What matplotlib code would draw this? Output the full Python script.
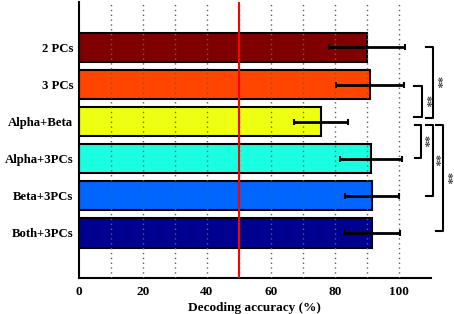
import matplotlib
matplotlib.use('Agg')
import matplotlib.pyplot as plt
import numpy as np

labels = ['2 PCs', '3 PCs', 'Alpha+Beta', 'Alpha+3PCs', 'Beta+3PCs', 'Both+3PCs']
acc = [90.0, 91.0, 75.6, 91.3, 91.6, 91.6]
err = [11.9, 10.6, 8.4, 9.7, 8.4, 8.7]
colors = ['#800000', '#ff4500', '#eeff11', '#1affe0', '#0066ff', '#000090']
stars = ['**', '**', '**', '**', '**']

plt.rcParams['font.family'] = ['Liberation Serif', 'DejaVu Serif']
plt.rcParams['font.weight'] = 'bold'

fig = plt.figure(figsize=(4.54, 3.14), dpi=100)
ax = fig.add_axes([0.174, 0.115, 0.775, 0.879])

y = np.arange(len(labels))
ax.barh(y, acc, height=0.8, color=colors, edgecolor='black', linewidth=1.5, zorder=2)
ax.errorbar(acc, y, xerr=err, fmt='none', ecolor='black', elinewidth=2,
            capsize=2.5, capthick=1.5, zorder=4)

for gx in range(10, 101, 10):
    ax.axvline(gx, color='#606060', linestyle=(0, (1, 2.5)), linewidth=1, zorder=3)
ax.axvline(50, color='red', linewidth=1.5, zorder=3)

ax.set_xlim(0, 110)
ax.set_ylim(6.22, -1.23)
ax.set_yticks(y)
ax.set_yticklabels(labels, fontsize=9.2, fontweight='bold')
ax.set_xticks([0, 20, 40, 60, 80, 100])
ax.tick_params(axis='x', length=0, labelsize=9.5, pad=6)
ax.tick_params(axis='y', length=0, pad=4)
for t in ax.get_xticklabels():
    t.set_fontweight('bold')
ax.set_xlabel('Decoding accuracy (%)', fontsize=9.5, fontweight='bold', labelpad=3)

for s in ['top', 'right']:
    ax.spines[s].set_visible(False)
for s in ['left', 'bottom']:
    ax.spines[s].set_linewidth(1.5)

# brackets (x of vertical line, arm length, star x)
bx = [110.6, 107.2, 106.9, 110.6, 113.75]
arm = [2.0, 2.5, 2.0, 2.0, 2.2]
sx = [111.8, 108.4, 107.8, 111.2, 114.8]
ya_list = [0.0, 1.04, 2.09, 2.09, 2.09]
yb_list = [1.9, 1.88, 2.99, 4.0, 4.96]
for x0, w, tx, st, ya, yb in zip(bx, arm, sx, stars, ya_list, yb_list):
    ax.plot([x0 - w, x0, x0, x0 - w], [ya, ya, yb, yb], color='black',
            linewidth=1.5, clip_on=False, zorder=5)
    ax.text(tx, (ya + yb) / 2, st, rotation=-90, ha='center', va='center',
            rotation_mode='anchor', fontsize=9, color='#444444', clip_on=False)

fig.savefig('out.png', dpi=100)
